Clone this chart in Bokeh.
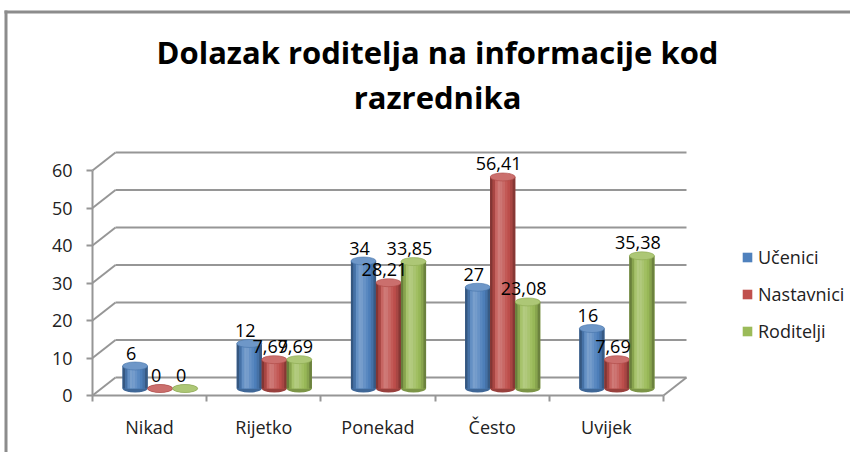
from bokeh.plotting import figure
from bokeh.models import FixedTicker, LinearAxis, Legend, LegendItem, Label, Range1d
from bokeh.embed import file_html
from bokeh.resources import INLINE
from bokeh.core.properties import value

# ---------------- data ----------------
title_line1 = "Dolazak roditelja na informacije kod"
title_line2 = "razrednika"
categories = ["Nikad", "Rijetko", "Ponekad", "Često", "Uvijek"]
series_names = ["Učenici", "Nastavnici", "Roditelji"]
ucenici = [6, 12, 34, 27, 16]
nastavnici = [0, 7.69, 28.21, 56.41, 7.69]
roditelji = [0, 7.69, 33.85, 23.08, 35.38]
y_ticks = [0, 10, 20, 30, 40, 50, 60]
series_colors = ["#4F81BD", "#C0504D", "#9BBB59"]

# ---------------- geometry / style ----------------
W, H = 850, 452
X0, SX = 92, 114.2      # canvas px of category boundary 0, px per category
Y0, SY = 395, 3.75      # canvas px of value 0 (front), px per value unit


def dx(px):
    return (px - X0) / SX


def dy(py):
    return (Y0 - py) / SY


DXB, DYB = 23 / SX, 18 / SY        # back-wall depth offset
DXM, DYM = 10.5 / SX, 7 / SY       # bar (mid-depth) offset
BW = 25 / SX                       # bar width
ELL_H = 8 / SY                     # cylinder cap height
GRID = "#969696"
FONT = "Open Sans"
PROFILE = [-0.32, -0.12, 0.12, 0.24, 0.22, 0.14, 0.06, -0.02, -0.12, -0.30]


def mix(c, t):
    r, g, b = int(c[1:3], 16), int(c[3:5], 16), int(c[5:7], 16)
    if t >= 0:
        r, g, b = r + (255 - r) * t, g + (255 - g) * t, b + (255 - b) * t
    else:
        r, g, b = r * (1 + t), g * (1 + t), b * (1 + t)
    return "#%02x%02x%02x" % (int(r), int(g), int(b))


def fmt(v):
    return str(int(v)) if float(v).is_integer() else f"{v:.2f}".replace(".", ",")


n = len(categories)

p = figure(width=W, height=H, output_backend="svg", toolbar_location=None, title=None,
           x_range=Range1d(dx(0), dx(W)), y_range=Range1d(dy(H), dy(0)),
           x_axis_type=None, y_axis_type=None,
           min_border_left=0, min_border_right=0, min_border_top=0, min_border_bottom=0)
p.outline_line_color = None
p.background_fill_color = "white"
p.border_fill_color = "white"

# chart-area border (left and top edges)
p.quad(left=[dx(4), dx(4)], right=[dx(7), dx(W)], bottom=[dy(H), dy(13)], top=[dy(10), dy(10)],
       fill_color="#8c8c8c", line_color=None)

# title
p.add_layout(Label(x=dx(437), y=dy(51), text=title_line1, text_align="center",
                   text_baseline="alphabetic", text_font=FONT, text_font_size="31px",
                   text_font_style="bold", text_color="#000000"))
p.add_layout(Label(x=dx(437), y=dy(96), text=title_line2, text_align="center",
                   text_baseline="alphabetic", text_font=FONT, text_font_size="31px",
                   text_font_style="bold", text_color="#000000"))

# y axis (front)
yaxis = LinearAxis(ticker=FixedTicker(ticks=y_ticks), bounds=(min(y_ticks), max(y_ticks)),
                   fixed_location=0)
yaxis.axis_line_color = GRID
yaxis.axis_line_width = 2
yaxis.major_tick_out = 6
yaxis.major_tick_in = 0
yaxis.major_tick_line_color = GRID
yaxis.major_tick_line_width = 2
yaxis.minor_tick_line_color = None
yaxis.major_label_standoff = 14
yaxis.major_label_text_font = FONT
yaxis.major_label_text_font_size = "18px"
yaxis.major_label_text_color = "#222222"
p.add_layout(yaxis, "left")

# x axis (front)
centers = [i + 0.5 for i in range(n)]
bounds = list(range(n + 1))
xaxis = LinearAxis(ticker=FixedTicker(ticks=centers, minor_ticks=bounds), bounds=(0, n),
                   fixed_location=0)
xaxis.major_label_overrides = {c: name for c, name in zip(centers, categories)}
xaxis.axis_line_color = GRID
xaxis.axis_line_width = 2
xaxis.major_tick_out = 0
xaxis.major_tick_in = 0
xaxis.major_tick_line_color = None
xaxis.minor_tick_out = 6
xaxis.minor_tick_in = 0
xaxis.minor_tick_line_color = GRID
xaxis.minor_tick_line_width = 2
xaxis.major_label_standoff = 13
xaxis.major_label_text_font = FONT
xaxis.major_label_text_font_size = "18px"
xaxis.major_label_text_color = "#222222"
p.add_layout(xaxis, "below")

# walls / gridlines
m = len(y_ticks)
p.segment(x0=[0] * m, y0=y_ticks, x1=[DXB] * m, y1=[t + DYB for t in y_ticks],
          line_color=GRID, line_width=2)
p.segment(x0=[DXB] * m, y0=[t + DYB for t in y_ticks], x1=[n + DXB] * m,
          y1=[t + DYB for t in y_ticks], line_color=GRID, line_width=2)
p.segment(x0=[n], y0=[y_ticks[0]], x1=[n + DXB], y1=[y_ticks[0] + DYB],
          line_color=GRID, line_width=2)

# cylinders
series = [ucenici, nastavnici, roditelji]
legend_items = []
label_x, label_y, label_t = [], [], []
for s, (name, vals, col) in enumerate(zip(series_names, series, series_colors)):
    xc = [i + 0.5 + (s - 1) * BW + DXM for i in range(n)]
    base = [DYM] * n
    top = [DYM + v for v in vals]
    p.ellipse(x=xc, y=base, width=BW, height=ELL_H, fill_color=mix(col, -0.2), line_color=None)
    body = p.vbar(x=xc, width=BW, bottom=base, top=top, fill_color=col, line_color=None)
    sx, sb, st, sc = [], [], [], []
    k_n = len(PROFILE)
    for k, t in enumerate(PROFILE):
        off = (k + 0.5) / k_n - 0.5
        for i in range(n):
            sx.append(xc[i] + off * BW)
            sb.append(base[i])
            st.append(top[i])
            sc.append(mix(col, t))
    p.vbar(x=sx, width=BW / k_n * 1.1, bottom=sb, top=st, fill_color=sc, line_color=None)
    p.ellipse(x=xc, y=top, width=BW, height=ELL_H, fill_color=mix(col, 0.18),
              line_color=mix(col, -0.1), line_width=0.6)
    legend_items.append(LegendItem(label=name, renderers=[body]))
    label_x += [c - 4 / SX for c in xc]
    label_y += [t + 13 / SY for t in top]
    label_t += [fmt(v) for v in vals]

p.text(x=label_x, y=label_y, text=label_t, text_align="center", text_baseline="alphabetic",
       text_font=value(FONT), text_font_size="18px", text_color="#000000")

legend = Legend(items=legend_items, location=(741, H - 343), orientation="vertical",
                border_line_color=None, background_fill_alpha=0, padding=0, margin=0,
                spacing=13, glyph_width=12, glyph_height=12, label_standoff=5,
                label_height=22, label_text_font=FONT, label_text_font_size="18px",
                label_text_color="#222222")
p.add_layout(legend)

open("out.html", "w").write(file_html(p, INLINE))
